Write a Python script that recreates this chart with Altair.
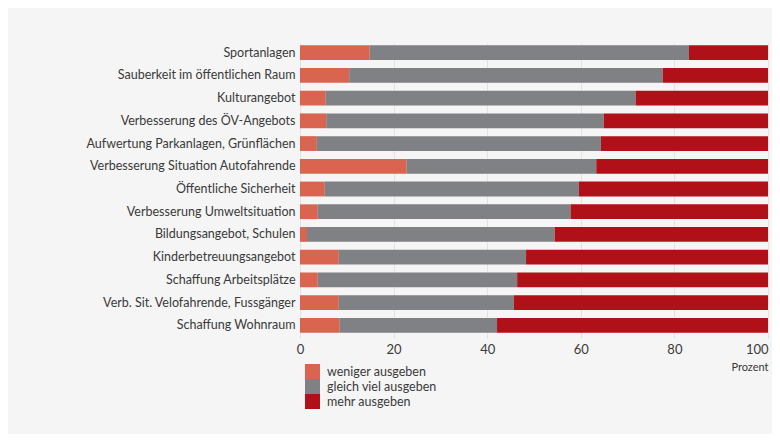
import altair as alt
import pandas as pd

categories = [
    "Sportanlagen",
    "Sauberkeit im öffentlichen Raum",
    "Kulturangebot",
    "Verbesserung des ÖV-Angebots",
    "Aufwertung Parkanlagen, Grünflächen",
    "Verbesserung Situation Autofahrende",
    "Öffentliche Sicherheit",
    "Verbesserung Umweltsituation",
    "Bildungsangebot, Schulen",
    "Kinderbetreuungsangebot",
    "Schaffung Arbeitsplätze",
    "Verb. Sit. Velofahrende, Fussgänger",
    "Schaffung Wohnraum",
]
weniger = [14.9, 10.5, 5.5, 5.6, 3.6, 22.8, 5.3, 3.8, 1.5, 8.3, 3.8, 8.3, 8.5]
gleich = [68.2, 67.0, 66.2, 59.3, 60.7, 40.5, 54.3, 54.0, 52.9, 40.0, 42.6, 37.4, 33.6]
mehr = [16.9, 22.5, 28.3, 35.1, 35.7, 36.7, 40.4, 42.2, 45.6, 51.7, 53.6, 54.3, 57.9]
series = ["weniger ausgeben", "gleich viel ausgeben", "mehr ausgeben"]
colors = ["#d9644f", "#808184", "#b01119"]

rows = []
for i, c in enumerate(categories):
    for k, (s, vals) in enumerate(zip(series, [weniger, gleich, mehr])):
        rows.append({"Kategorie": c, "Serie": s, "Wert": vals[i], "ord": k})
df = pd.DataFrame(rows)

font = "Lato"

chart = alt.Chart(df).mark_bar().encode(
    y=alt.Y("Kategorie:N", sort=categories, title=None,
            scale=alt.Scale(paddingInner=0.35, paddingOuter=0.1),
            axis=alt.Axis(ticks=False, domain=False, labelPadding=5, labelLimit=400,
                          labelFontSize=12.5, labelColor="#3a3a3a", labelFont=font)),
    x=alt.X("Wert:Q", stack="zero", title="Prozent",
            scale=alt.Scale(domain=[0, 100], nice=False),
            axis=alt.Axis(values=[0, 20, 40, 60, 80, 100], domain=False,
                          tickColor="#e0e0e0", tickSize=3, gridColor="#e3e3e3",
                          labelFlush=False,
                          labelAlign=alt.expr("datum.value == 100 ? 'right' : 'center'"),
                          labelFontSize=13, labelColor="#3a3a3a", labelFont=font,
                          labelPadding=5,
                          titleAnchor="end", titleFontSize=11, titleFontWeight="normal",
                          titleColor="#3a3a3a", titleFont=font, titlePadding=5)),
    color=alt.Color("Serie:N", sort=series,
                    scale=alt.Scale(domain=series, range=colors),
                    legend=alt.Legend(title=None, orient="none", legendX=5, legendY=321,
                                      symbolType="square", symbolSize=225,
                                      symbolStrokeWidth=0, rowPadding=0,
                                      labelFontSize=12.5, labelColor="#3a3a3a",
                                      labelFont=font, labelOffset=7)),
    order=alt.Order("ord:Q"),
).properties(
    width=468,
    height=292,
    background="#f4f5f4",
    padding={"left": 292, "top": 35, "right": 4, "bottom": 99},
    autosize=alt.AutoSizeParams(type="none"),
).configure_view(stroke=None)

chart.save("out.html", embed_options={"renderer": "svg", "actions": False})
